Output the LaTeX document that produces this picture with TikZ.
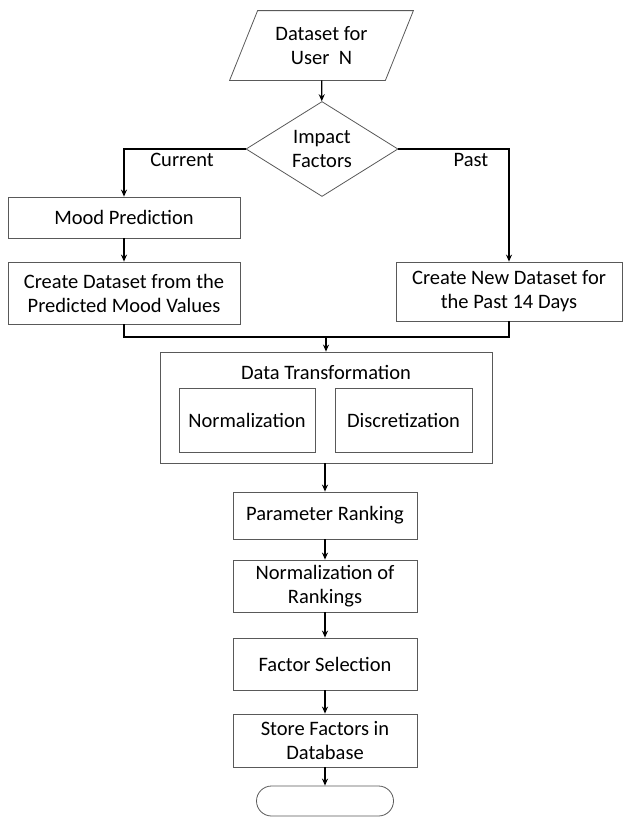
\documentclass[tikz,border=0pt]{standalone}
\usepackage{fontspec}
\setmainfont{Carlito}
\usetikzlibrary{shapes.geometric,shapes.misc,arrows.meta}

\begin{document}
\begin{tikzpicture}[x=1pt,y=-1pt,
    procbox/.style={shape=rectangle,draw=black!65,line width=0.8pt,inner sep=0pt,align=center,font=\fontsize{20.5}{24}\selectfont},
    lbl/.style={font=\fontsize{20.5}{24}\selectfont,inner sep=0pt},
    arr/.style={-{Stealth[length=7pt,width=6pt]},line width=1.2pt,black}]

    \useasboundingbox (0,0) rectangle (623,817);

    \node[procbox,draw=none,minimum width=155pt,minimum height=69pt] (data) at (321.5,45.5) {Dataset for\\User~ N};
    \draw[draw=black!65,line width=0.8pt] ([xshift=-14pt]data.south west) -- ([xshift=14pt]data.north west)
        -- ([xshift=14pt]data.north east) -- ([xshift=-14pt]data.south east) -- cycle;
    \node[procbox,shape=diamond,minimum width=152pt,minimum height=95pt,aspect=1.6] (impact) at (322,149) {Impact\\Factors};
    \node[lbl] (current) at (182,160) {Current};
    \node[lbl] (past) at (471,160) {Past};

    \node[procbox,minimum width=232pt,minimum height=41pt] (mood) at (124,217.5) {Mood Prediction};
    \node[procbox,minimum width=232pt,minimum height=62pt] (predds) at (124,293) {Create Dataset from the\\Predicted Mood Values};
    \node[procbox,minimum width=226pt,minimum height=59pt] (pastds) at (509,291.5) {Create New Dataset for\\the Past 14 Days};
    \coordinate (merge) at (326,337);

    \node[procbox,minimum width=332pt,minimum height=111pt] (trans) at (326,407.5) {};
    \node[lbl] (transtitle) at (326,372) {Data Transformation};
    \node[procbox,minimum width=136pt,minimum height=64pt] (norm) at (247,420) {Normalization};
    \node[procbox,minimum width=137pt,minimum height=64pt] (disc) at (403.5,420) {Discretization};

    \node[procbox,minimum width=184pt,minimum height=47pt] (rank) at (325,515.5) {Parameter Ranking};
    \node[procbox,minimum width=184pt,minimum height=52pt] (normrank) at (325,586) {Normalization of\\Rankings};
    \node[procbox,minimum width=184pt,minimum height=52pt] (select) at (325,664) {Factor Selection};
    \node[procbox,minimum width=184pt,minimum height=53pt] (store) at (325,740.5) {Store Factors in\\Database};
    \node[procbox,shape=rounded rectangle,minimum width=137pt,minimum height=30pt] (stop) at (325,801) {};

   \draw[arr]   (data) -- (impact);
   \draw[arr]   (impact.west) -| (mood.north);
   \draw[arr]   (impact.east) -| (pastds.north);
   \draw[arr]   (mood) -- (predds);
   \draw[-,line width=1.2pt]   (predds.south) |- (merge);
   \draw[-,line width=1.2pt]   (pastds.south) |- (merge);
   \draw[arr]   (merge) -- (trans.north);
   \draw[arr]   (trans.south -| rank.north) -- (rank);
   \draw[arr]   (rank) -- (normrank);
   \draw[arr]   (normrank) -- (select);
   \draw[arr]   (select) -- (store);
   \draw[arr]   (store) -- (stop);
\end{tikzpicture}
\end{document}
